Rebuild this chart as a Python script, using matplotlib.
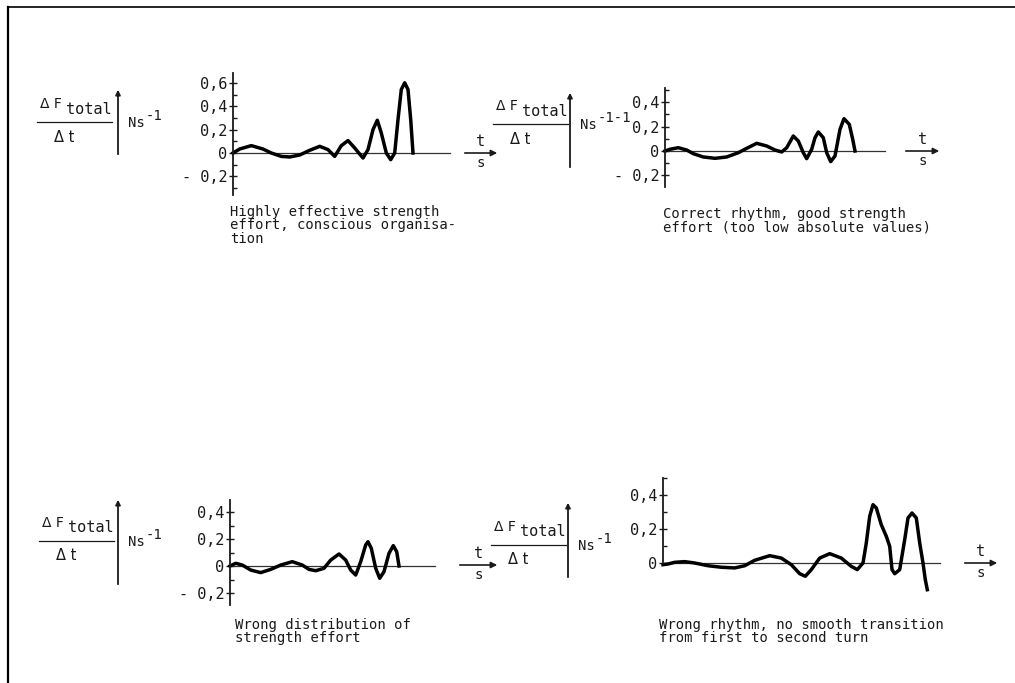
import numpy as np
import matplotlib
matplotlib.use("Agg")
import matplotlib.pyplot as plt

plt.rcParams['font.family'] = ['DejaVu Sans Mono', 'DejaVu Sans']

# --- curves (t in arbitrary time units, value in Ns^-1) ---
t1 = [0, 6.7, 18.3, 30, 38.3, 48.3, 56.7, 66.7, 76.7, 86.7, 95, 101.7, 108.3, 115, 121.7,
      130, 135, 140, 144.3, 148.3, 153.3, 157.7, 161.7, 165, 168.3, 171.7, 175, 177.7, 180]
v1 = [0, 0.034, 0.063, 0.034, 0, -0.029, -0.034, -0.017, 0.023, 0.057, 0.029, -0.029, 0.063, 0.106, 0.043,
      -0.043, 0.029, 0.2, 0.28, 0.171, 0, -0.057, 0, 0.286, 0.543, 0.6, 0.543, 0.286, 0]

t2 = [0, 5, 13.3, 21.7, 28.3, 38.3, 50, 61.7, 73.3, 81.7, 91.7, 101.7, 110, 116.7, 121.7, 128.3,
      133.3, 138.3, 141.7, 146.7, 150, 153.3, 158.3, 161.7, 165.7, 170, 175, 179, 184.3, 187.7, 190]
v2 = [0, 0.014, 0.027, 0.008, -0.022, -0.049, -0.06, -0.049, -0.014, 0.022, 0.063, 0.041, 0.008, -0.008, 0.027, 0.123,
      0.082, -0.014, -0.063, 0.014, 0.109, 0.156, 0.109, -0.014, -0.087, -0.041, 0.178, 0.265, 0.218, 0.096, 0]

t3 = [0, 5.7, 12.3, 20.7, 30.7, 40.7, 50.7, 62.3, 72.3, 79, 85.7, 94, 100.7, 109, 115.7, 120.7,
      125.7, 130.7, 135.7, 138, 141.3, 145.7, 149.7, 154, 159, 163.3, 166.7, 169]
v3 = [0, 0.02, 0.007, -0.03, -0.049, -0.025, 0.007, 0.032, 0.007, -0.025, -0.035, -0.017, 0.044, 0.089, 0.044, -0.03,
      -0.067, 0.032, 0.156, 0.18, 0.131, -0.017, -0.091, -0.042, 0.094, 0.151, 0.106, 0]

t4 = [0, 5, 11.7, 21.7, 31.7, 45, 58.3, 71.7, 81.7, 91.7, 106.7, 118.3, 128.3, 136.7, 142.3, 148.3,
      156.7, 166.7, 178.3, 188.3, 194.3, 200, 203.3, 206.7, 210, 213.3, 218.3, 223.3, 226.7, 229,
      231.7, 236.7, 241.7, 245, 249, 253.3, 256.7, 260, 262.3, 264.3]
v4 = [-0.01, -0.006, 0.004, 0.008, 0, -0.016, -0.025, -0.029, -0.016, 0.016, 0.043, 0.029, -0.01, -0.063, -0.078, -0.039,
      0.029, 0.055, 0.029, -0.02, -0.039, 0, 0.118, 0.275, 0.343, 0.324, 0.225, 0.157, 0.098, -0.039,
      -0.063, -0.039, 0.137, 0.265, 0.294, 0.265, 0.118, 0, -0.098, -0.157]

ticks1 = [-0.2, 0, 0.2, 0.4, 0.6]
labels1 = ['- 0,2', '0', '0,2', '0,4', '0,6']
ticks2 = [-0.2, 0, 0.2, 0.4]
labels2 = ['- 0,2', '0', '0,2', '0,4']
ticks3 = [-0.2, 0, 0.2, 0.4]
labels3 = ['- 0,2', '0', '0,2', '0,4']
ticks4 = [0, 0.2, 0.4]
labels4 = ['0', '0,2', '0,4']

captions = ["Highly effective strength\neffort, conscious organisa-\ntion",
            "Correct rhythm, good strength\neffort (too low absolute values)",
            "Wrong distribution of\nstrength effort",
            "Wrong rhythm, no smooth transition\nfrom first to second turn"]
units = ['-1', '-1-1', '-1', '-1']

W, H = 1015, 683
fig = plt.figure(figsize=(W / 100, H / 100), dpi=100)
bg = fig.add_axes([0, 0, 1, 1])
bg.set_xlim(0, W)
bg.set_ylim(H, 0)
bg.axis('off')

# frame of the scanned page
bg.plot([8, 8], [683, 7], color='k', lw=1.6)
bg.plot([8, 1015], [7, 7], color='k', lw=1.2)

ink = '#1a1a1a'

# layout in pixels: axis x, axis top, baseline, axis bottom, baseline length, px per unit
panels = [
    dict(t=t1, v=v1, ticks=ticks1, labels=labels1, x0=233, top=73, yb=153, bot=195, L=217, s=117,
         lab=(40, 104), arr=(118, 157, 87), tx=(462, 500, 153), cap=(230, 205)),
    dict(t=t2, v=v2, ticks=ticks2, labels=labels2, x0=665, top=88, yb=151, bot=187, L=220, s=122,
         lab=(496, 106), arr=(570, 170, 90), tx=(903, 942, 151), cap=(663, 207)),
    dict(t=t3, v=v3, ticks=ticks3, labels=labels3, x0=230, top=500, yb=566, bot=605, L=205, s=135,
         lab=(42, 523), arr=(118, 587, 497), tx=(457, 500, 565), cap=(235, 618)),
    dict(t=t4, v=v4, ticks=ticks4, labels=labels4, x0=663, top=478, yb=563, bot=563, L=277, s=170,
         lab=(494, 527), arr=(568, 580, 500), tx=(962, 1000, 563), cap=(659, 618)),
]

for i, p in enumerate(panels):
    ax = fig.add_axes([p['x0'] / W, 1 - p['bot'] / H, p['L'] / W, (p['bot'] - p['top']) / H])
    ax.set_facecolor('none')
    ylo = (p['yb'] - p['bot']) / p['s']
    yhi = (p['yb'] - p['top']) / p['s']
    for side in ['top', 'right', 'bottom']:
        ax.spines[side].set_visible(False)
    ax.spines['left'].set_linewidth(1.3)
    ax.spines['left'].set_color(ink)
    ax.set_xticks([])
    ax.set_yticks(p['ticks'], p['labels'])
    minor = [m for m in np.round(np.arange(-0.3, 0.7, 0.1), 1) if ylo <= m <= yhi]
    ax.set_yticks(minor, minor=True)
    ax.set_xlim(0, p['L'])
    ax.set_ylim(ylo, yhi)
    ax.tick_params(axis='y', which='major', direction='inout', length=6, width=1, pad=1,
                   labelsize=11, colors=ink)
    ax.tick_params(axis='y', which='minor', direction='in', length=3, width=1, colors=ink)
    ax.axhline(0, color='#333333', lw=0.9, clip_on=False)
    ax.plot(p['t'], p['v'], color='k', lw=2.5, solid_joinstyle='round', clip_on=False)

    # y label block: dF_total / dt with arrow and unit
    lx, ly = p['lab']
    bg.text(lx, ly, 'Δ F', fontsize=10, color=ink, va='center', ha='left', family='DejaVu Sans')
    bg.text(lx + 26, ly + 5, 'total', fontsize=11, color=ink, va='center', ha='left')
    bg.plot([lx - 3, lx + 72], [ly + 18, ly + 18], color=ink, lw=0.9)
    bg.text(lx + 14, ly + 33, 'Δ t', fontsize=10.5, color=ink, va='center', ha='left', family='DejaVu Sans')
    ax_x, ay0, ay1 = p['arr']
    bg.annotate('', xy=(ax_x, ay1), xytext=(ax_x, ay0),
                arrowprops=dict(arrowstyle='-|>', color=ink, lw=1.3, mutation_scale=7))
    bg.text(ax_x + 10, ly + 19, 'Ns', fontsize=10, color=ink, va='center', ha='left')
    bg.text(ax_x + 28, ly + 12, units[i], fontsize=10, color=ink, va='center', ha='left')

    # time arrow t/s
    x0, x1, yy = p['tx']
    bg.annotate('', xy=(x1, yy), xytext=(x0, yy),
                arrowprops=dict(arrowstyle='-|>', color=ink, lw=1.2, mutation_scale=9))
    bg.text((x0 + x1) / 2, yy - 11, 't', fontsize=11, color=ink, ha='center', va='center')
    bg.text((x0 + x1) / 2, yy + 10, 's', fontsize=10, color=ink, ha='center', va='center')

    cx, cy = p['cap']
    bg.text(cx, cy, captions[i], fontsize=10, color=ink, ha='left', va='top', linespacing=0.95)

fig.savefig('out.png', dpi=100, facecolor='white')
